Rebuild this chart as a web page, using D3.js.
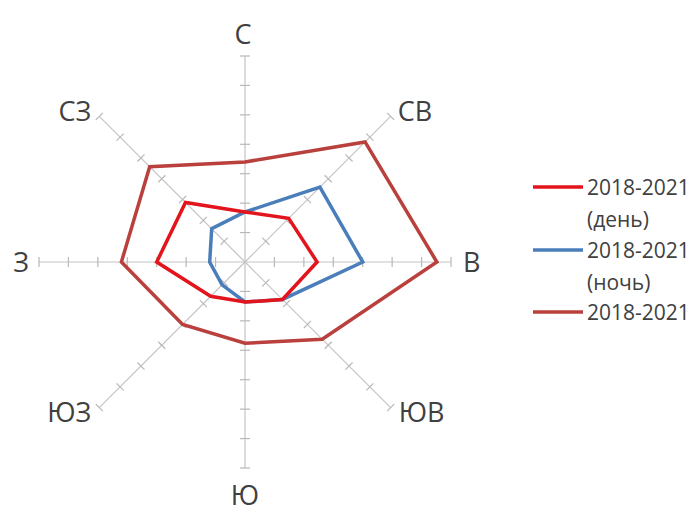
<!DOCTYPE html>
<html>
<head>
<meta charset="utf-8">
<script src="https://cdn.jsdelivr.net/npm/d3@7"></script>
<style>
  body { margin: 0; background: #fff; }
  svg { display: block; }
  text { font-family: "Open Sans", "Liberation Sans", sans-serif; fill: #404040; }
</style>
</head>
<body>
<script>
// directions, clockwise from north
const directions = ["С", "СВ", "В", "ЮВ", "Ю", "ЮЗ", "З", "СЗ"]

const dayValues   = [1.7, 2.1, 2.45, 1.8, 1.36, 1.65, 3.0, 2.86]
const nightValues = [1.7, 3.6, 4.0, 1.8, 1.36, 1.1, 1.2, 1.6]
const allValues   = [3.4, 5.77, 6.52, 3.71, 2.76, 3.0, 4.2, 4.58]

const seriesNames  = ["2018-2021", "2018-2021", "2018-2021"]
const seriesNotes  = ["(день)", "(ночь)", ""]
const seriesColors = ["#e3141c", "#4a7ebb", "#b9403d"]

const maxValue = 7

const width = 700, height = 513
const cx = 245, cy = 262, radius = 206

const svg = d3.select("body").append("svg")
  .attr("width", width)
  .attr("height", height)

const r = d3.scaleLinear().domain([0, maxValue]).range([0, radius])
const step = 2 * Math.PI / directions.length
function ang(i) { return i * step }

function pt(i, v) {
  let a = ang(i)
  return [cx + r(v) * Math.sin(a), cy - r(v) * Math.cos(a)]
}

let grid = svg.append("g")

directions.forEach(function(d, i) {

  let a = ang(i)
  let end = pt(i, maxValue)

  grid.append("line")
    .attr("x1", cx).attr("y1", cy)
    .attr("x2", end[0]).attr("y2", end[1])
    .attr("stroke", "#c4c4c4")
    .attr("stroke-width", 1.2)

  // tick marks across each axis
  d3.range(1, maxValue + 1).forEach(function(t) {
    let p = pt(i, t)
    let px = Math.cos(a) * 5, py = Math.sin(a) * 5
    grid.append("line")
      .attr("x1", p[0] - px).attr("y1", p[1] - py)
      .attr("x2", p[0] + px).attr("y2", p[1] + py)
      .attr("stroke", "#b8b8b8")
      .attr("stroke-width", 1.2)
  })

})

// direction labels
let labelOffsets = [
  [-2, -22, "middle"], [7, -5, "start"], [12, 0, "start"], [8, 5, "start"],
  [0, 27, "middle"], [-8, 5, "end"], [-10, 0, "end"], [-8, -5, "end"]
]

directions.forEach(function(d, i) {
  let end = pt(i, maxValue)
  let o = labelOffsets[i]
  svg.append("text")
    .attr("x", end[0] + o[0])
    .attr("y", end[1] + o[1])
    .attr("dy", "0.36em")
    .attr("text-anchor", o[2])
    .attr("font-size", "27px")
    .text(d)
})

// series
let line = d3.lineRadial()
  .angle(function(d, i) { return ang(i) })
  .radius(function(d) { return r(d) })
  .curve(d3.curveLinearClosed)

let series = [dayValues, nightValues, allValues]

svg.selectAll(".series")
  .data(series.slice().reverse())
  .enter()
  .append("path")
  .attr("class", "series")
  .attr("d", line)
  .attr("transform", "translate(" + cx + "," + cy + ")")
  .attr("fill", "none")
  .attr("stroke", function(d, i) { return seriesColors[series.length - 1 - i] })
  .attr("stroke-width", 3.5)
  .attr("stroke-linejoin", "miter")

// legend
let legendY = [187, 250, 312]

seriesNames.forEach(function(name, i) {
  let g = svg.append("g").attr("transform", "translate(0," + legendY[i] + ")")
  g.append("line")
    .attr("x1", 533).attr("x2", 583)
    .attr("stroke", seriesColors[i])
    .attr("stroke-width", 3.5)
  g.append("text")
    .attr("x", 587)
    .attr("dy", "0.36em")
    .attr("font-size", "21px")
    .text(name)
  if (seriesNotes[i]) {
    g.append("text")
      .attr("x", 587)
      .attr("y", 32)
      .attr("dy", "0.36em")
      .attr("font-size", "21px")
      .text(seriesNotes[i])
  }
})
</script>
</body>
</html>
